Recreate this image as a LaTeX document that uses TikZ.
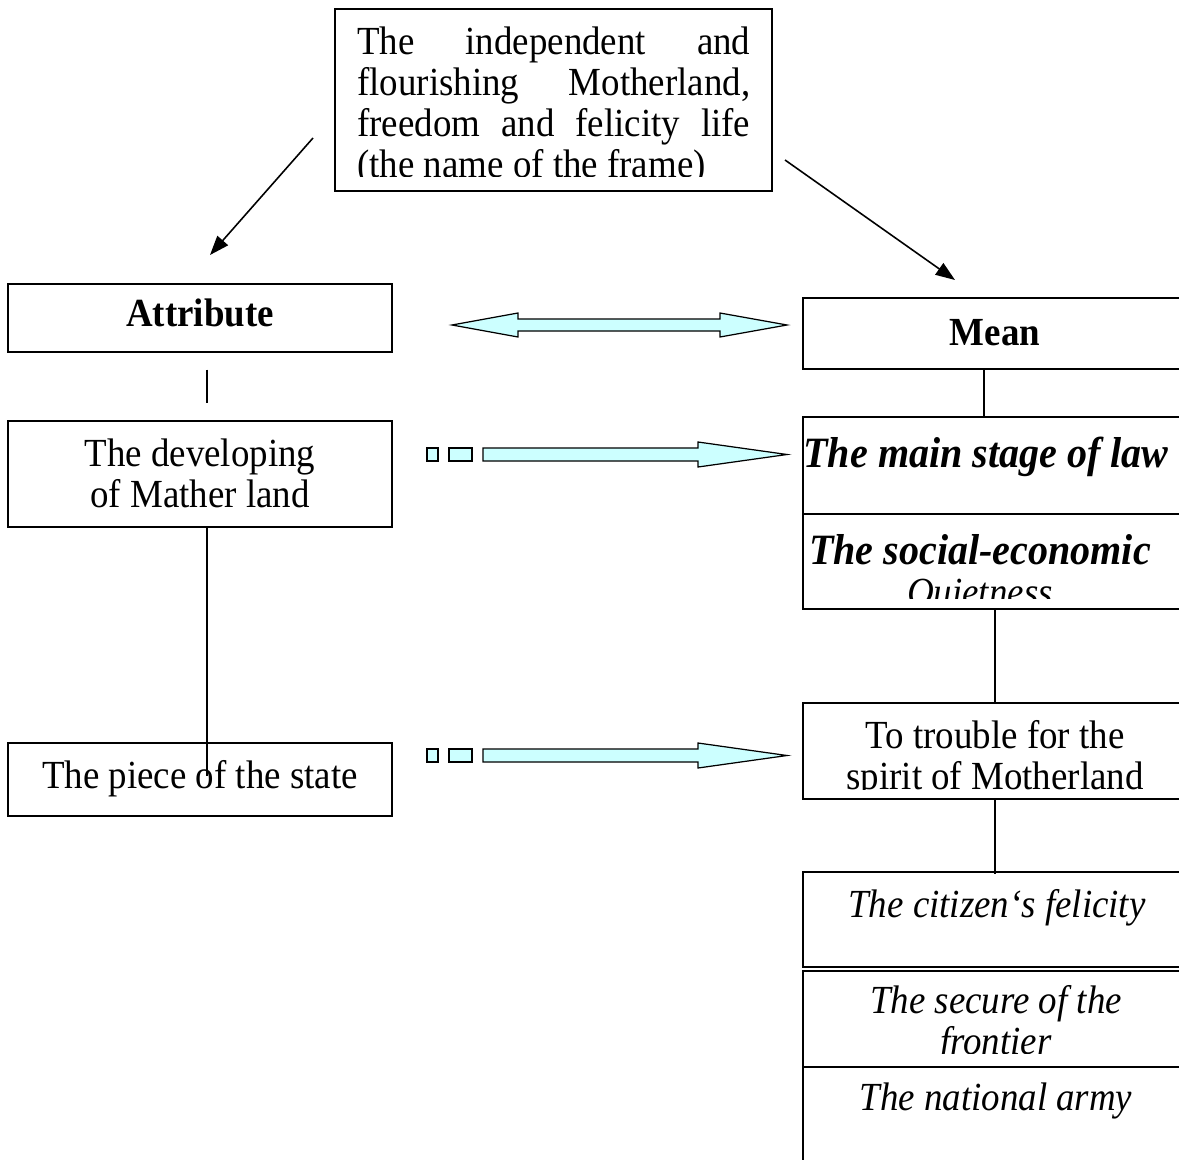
\documentclass[tikz,border=0pt]{standalone}
\usepackage{fontspec}
\setmainfont{Liberation Serif}
\usetikzlibrary{calc,arrows.meta}
\definecolor{paleblue}{RGB}{204,255,255}
\newcommand{\bigbi}[1]{{\fontsize{22.8}{21.5}\selectfont\textbf{\textit{#1}}}}

\begin{document}
\begin{tikzpicture}[x=0.02cm,y=-0.02cm,
    box/.style={draw,line width=0.7pt,inner sep=0pt},
    txt/.style={inner sep=0pt,anchor=base,align=center,
      font=\fontsize{21}{21.5}\selectfont,yscale=1.08,transform shape},
    fat/.style={draw,line width=0.7pt,fill=paleblue},
    link/.style={line width=0.7pt}]
\useasboundingbox (0,0) rectangle (1179,1159);
\clip (0,0) rectangle (1179,1159);

% the frame on top
\node[box,minimum width=8.74cm,minimum height=3.64cm] (frame) at (553.5,100) {};
\begin{scope}
  \clip (336,10) rectangle (771,176);
  \node[txt,anchor=base west,text width=7.86cm,align=justify] (frametxt) at (357,55)
    {The independent and\linebreak flourishing Motherland,\linebreak freedom and felicity life\linebreak (the name of the frame)};
\end{scope}
\coordinate (lfrom) at (313,138);
\coordinate (lto) at (210,255);
\coordinate (rfrom) at (785,160);
\coordinate (rto) at (955,280);
\draw[line width=0.9pt,-{Triangle[length=11pt,width=8pt]}] (lfrom) -- (lto);
\draw[line width=0.9pt,-{Triangle[length=11pt,width=8pt]}] (rfrom) -- (rto);

% left column
\node[box,minimum width=7.68cm,minimum height=1.36cm] (attr) at (200,318) {};
\node[txt] (attrtxt) at (200,326) {\textbf{Attribute}};
\node[box,minimum width=7.68cm,minimum height=2.12cm] (dev) at (200,474) {};
\node[txt] (devtxt) at (200,507) {The developing\\of Mather land};
\node[box,minimum width=7.68cm,minimum height=1.46cm] (piece) at (200,779.5) {};
\node[txt] (piecetxt) at (200,788) {The piece of the state};
\draw[link] ($(attr.south)+(7,17)$) -- ($(dev.north)+(7,-17)$);
\draw[link] ($(dev.south)+(7,0)$) -- ($(piece.north)+(7,34)$);

% right column
\node[box,minimum width=7.74cm,minimum height=1.42cm] (mean) at (996.5,333.5) {};
\node[txt] (meantxt) at (995,345) {\textbf{Mean}};
\node[box,minimum width=7.74cm,minimum height=1.94cm] (law) at (996.5,465.5) {};
\node[txt] (lawtxt) at (986,467) {\bigbi{The main stage of law}};
\node[box,minimum width=7.74cm,minimum height=1.9cm] (social) at (996.5,561.5) {};
\begin{scope}
  \clip (804,515) rectangle (1189,598);
  \node[txt] (socialtxt) at (980,605) {\bigbi{The social-economic}\\\textit{Quietness}};
\end{scope}
\node[box,minimum width=7.74cm,minimum height=1.92cm] (trouble) at (996.5,751) {};
\begin{scope}
  \clip (804,704) rectangle (1189,789);
  \node[txt] (troubletxt) at (995,789) {To trouble for the\\spirit of Motherland};
\end{scope}
\node[box,minimum width=7.74cm,minimum height=1.9cm] (citizen) at (996.5,919.5) {};
\node[txt] (citizentxt) at (997,917) {\textit{The citizen‘s felicity}};
\node[box,minimum width=7.74cm,minimum height=1.92cm] (secure) at (996.5,1019) {};
\begin{scope}
  \clip (804,972) rectangle (1189,1053);
  \node[txt] (securetxt) at (996,1054) {\textit{The secure of the}\\\textit{frontier}};
\end{scope}
\node[box,minimum width=7.74cm,minimum height=2.26cm] (army) at (996.5,1123.5) {};
\node[txt] (armytxt) at (996,1110) {\textit{The national army}};
\draw[link] ($(mean.south)+(-12.5,0)$) -- ($(law.north)+(-12.5,0)$);
\draw[link] ($(social.south)+(-1.5,0)$) -- ($(trouble.north)+(-1.5,0)$);
\draw[link] ($(trouble.south)+(-1.5,0)$) -- ($(citizen.north)+(-1.5,3)$);

% fat arrows between the columns
\draw[fat] (452,325) -- (518,313) -- (518,319) -- (720,319) -- (720,313) -- (787,325)
  -- (720,337) -- (720,331) -- (518,331) -- (518,337) -- cycle;
\foreach \y in {454.5,755.5} {
  \draw[fat] (427,\y-6.5) rectangle (438,\y+6.5);
  \draw[fat] (449,\y-6.5) rectangle (472,\y+6.5);
  \draw[fat] (483,\y-6.5) -- (698,\y-6.5) -- (698,\y-12.5) -- (787,\y)
    -- (698,\y+12.5) -- (698,\y+6.5) -- (483,\y+6.5) -- cycle;
}
\end{tikzpicture}
\end{document}
